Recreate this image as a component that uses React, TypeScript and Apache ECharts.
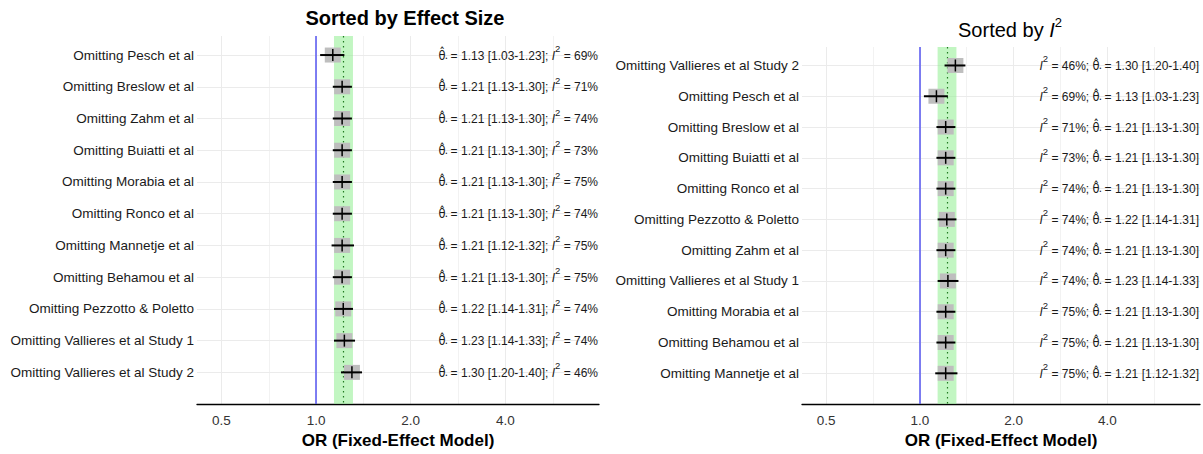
import React, { useEffect, useRef } from 'react';
import * as echarts from 'echarts';

// ---------- data ----------
const studies = [
  'Pesch et al',
  'Breslow et al',
  'Zahm et al',
  'Buiatti et al',
  'Morabia et al',
  'Ronco et al',
  'Mannetje et al',
  'Behamou et al',
  'Pezzotto & Poletto',
  'Vallieres et al Study 1',
  'Vallieres et al Study 2',
];
const orEstimate = [1.13, 1.21, 1.21, 1.21, 1.21, 1.21, 1.21, 1.21, 1.22, 1.23, 1.3];
const ciLower = [1.03, 1.13, 1.13, 1.13, 1.13, 1.13, 1.12, 1.13, 1.14, 1.14, 1.2];
const ciUpper = [1.23, 1.3, 1.3, 1.3, 1.3, 1.3, 1.32, 1.3, 1.31, 1.33, 1.4];
const i2Values = [69, 71, 74, 73, 75, 74, 75, 75, 74, 74, 46];

const orderByEffect = [
  'Pesch et al', 'Breslow et al', 'Zahm et al', 'Buiatti et al', 'Morabia et al', 'Ronco et al',
  'Mannetje et al', 'Behamou et al', 'Pezzotto & Poletto', 'Vallieres et al Study 1', 'Vallieres et al Study 2',
];
const orderByI2 = [
  'Vallieres et al Study 2', 'Pesch et al', 'Breslow et al', 'Buiatti et al', 'Ronco et al',
  'Pezzotto & Poletto', 'Zahm et al', 'Vallieres et al Study 1', 'Morabia et al', 'Behamou et al', 'Mannetje et al',
];

const pooledOR = 1.22;
const pooledLower = 1.14;
const pooledUpper = 1.31;
const nullOR = 1;
const xTickValues = [0.5, 1, 2, 4];
const xMinorBreaks = [0.7071, 1.4142, 2.8284, 5.6569];

// ---------- styling ----------
const FONT = '"Liberation Sans", Arial, Helvetica, sans-serif';
const THETA_FONT = '"DejaVu Sans", "Liberation Sans", sans-serif';
const X_MIN = 0.418;
const X_MAX = 7.94;
const Y_MIN = 0.4;
const Y_MAX = 12;
const TXT = '#1a1a1a';

const fmt = (v: number) => v.toFixed(2);

let measureCtx: CanvasRenderingContext2D | null = null;
function textWidth(s: string, size: number, italic = false, family = FONT) {
  if (!measureCtx) measureCtx = document.createElement('canvas').getContext('2d');
  if (!measureCtx) return s.length * size * 0.55;
  measureCtx.font = `${italic ? 'italic ' : ''}${size}px ${family}`;
  return measureCtx.measureText(s).width;
}

type Piece = { t: string; size: number; italic?: boolean; dy: number; pre: number; family?: string };

const thetaPieces = (id: number): Piece[] => [
  { t: 'θ\u0302', size: 11.5, dy: 0, pre: 0, family: THETA_FONT },
  { t: '•', size: 5, dy: 2, pre: 0 },
  { t: `= ${fmt(orEstimate[id])} [${fmt(ciLower[id])}-${fmt(ciUpper[id])}]`, size: 12, dy: 0, pre: 1 },
];
const i2Pieces = (id: number): Piece[] => [
  { t: 'I', size: 12, italic: true, dy: 0, pre: 0 },
  { t: '2', size: 9.5, dy: -7, pre: 0 },
  { t: `= ${i2Values[id]}%`, size: 12, dy: 0, pre: 1 },
];

function annotationPieces(id: number, i2First: boolean): Piece[] {
  const a = i2First ? i2Pieces(id) : thetaPieces(id);
  const b = i2First ? thetaPieces(id) : i2Pieces(id);
  b[0] = { ...b[0], pre: 1 };
  return [...a, { t: ';', size: 12, dy: 0, pre: 0 }, ...b];
}

function renderAnnotation(right: number, cy: number, pieces: Piece[]) {
  const space = textWidth(' ', 12);
  const widths = pieces.map((p) => textWidth(p.t, p.size, p.italic, p.family || FONT));
  const total = pieces.reduce((s, p, i) => s + p.pre * space + widths[i], 0);
  let x = right - total;
  const children: any[] = [];
  pieces.forEach((p, i) => {
    x += p.pre * space;
    children.push({
      type: 'text',
      x,
      y: cy + p.dy,
      style: {
        text: p.t,
        fontSize: p.size,
        fontFamily: p.family || FONT,
        fontStyle: p.italic ? 'italic' : 'normal',
        fill: TXT,
        align: 'left',
        verticalAlign: 'middle',
      },
    });
    x += widths[i];
  });
  return { type: 'group', children };
}

function buildPanel(idx: number, order: string[], i2First: boolean) {
  const ids = order.map((n) => studies.indexOf(n));
  const rows = ids.map((_, r) => r + 1);
  const markData = ids.map((id, r) => [orEstimate[id], r + 1, ciLower[id], ciUpper[id]]);
  const textData = ids.map((id, r) => [orEstimate[id], r + 1, id]);

  const xAxis = {
    type: 'log',
    logBase: 2,
    gridIndex: idx,
    min: X_MIN,
    max: X_MAX,
    axisLine: { show: true, lineStyle: { color: '#000', width: 1.3 } },
    axisTick: { show: false },
    splitLine: { show: false },
    axisLabel: {
      margin: 9,
      fontSize: 13.5,
      color: '#333',
      fontFamily: FONT,
      formatter: (v: number) => (xTickValues.some((t) => Math.abs(t - v) < 1e-6) ? v.toFixed(1) : ''),
    },
    name: 'OR (Fixed-Effect Model)',
    nameLocation: 'middle',
    nameGap: 26,
    nameTextStyle: { fontSize: 17, fontWeight: 'bold', color: '#000', fontFamily: FONT },
  };
  const yAxis = {
    type: 'value',
    gridIndex: idx,
    min: Y_MIN,
    max: Y_MAX,
    inverse: true,
    axisLine: { show: false },
    axisTick: { show: false },
    splitLine: { show: false },
    axisLabel: {
      customValues: rows,
      formatter: (v: number) => 'Omitting ' + (order[Math.round(v) - 1] || ''),
      fontSize: 13.5,
      color: TXT,
      margin: 3,
      fontFamily: FONT,
    },
  };

  const gridLines = [
    ...xTickValues.map((v) => ({ xAxis: v, lineStyle: { color: '#EBEBEB', width: 1, type: 'solid' } })),
    ...xMinorBreaks.map((v) => ({ xAxis: v, lineStyle: { color: '#F0F0F0', width: 0.9, type: 'solid' } })),
    ...rows.map((r) => ({ yAxis: r, lineStyle: { color: '#EBEBEB', width: 1, type: 'solid' } })),
  ];

  const series = [
    {
      type: 'line',
      xAxisIndex: idx,
      yAxisIndex: idx,
      data: [],
      z: 0,
      silent: true,
      markLine: {
        silent: true,
        z: 0,
        symbol: ['none', 'none'],
        label: { show: false },
        emphasis: { disabled: true },
        data: gridLines,
      },
    },
    {
      type: 'line',
      xAxisIndex: idx,
      yAxisIndex: idx,
      data: [],
      z: 1,
      silent: true,
      markArea: {
        silent: true,
        z: 1,
        itemStyle: { color: 'rgba(144,238,144,0.55)' },
        label: { show: false },
        emphasis: { disabled: true },
        data: [[{ xAxis: pooledLower }, { xAxis: pooledUpper }]],
      },
      markLine: {
        silent: true,
        z: 2,
        symbol: ['none', 'none'],
        label: { show: false },
        emphasis: { disabled: true },
        data: [
          { xAxis: nullOR, lineStyle: { color: '#5f5ff2', width: 1.6, type: 'solid' } },
          { xAxis: pooledOR, lineStyle: { color: '#1f7a1f', width: 1.2, type: [1.5, 3.5] } },
        ],
      },
    },
    {
      type: 'custom',
      xAxisIndex: idx,
      yAxisIndex: idx,
      z: 3,
      silent: true,
      encode: { x: [0, 2, 3], y: 1 },
      data: markData,
      renderItem: (params: any, api: any) => {
        const y = api.value(1);
        const c = api.coord([api.value(0), y]);
        const lo = api.coord([api.value(2), y]);
        const hi = api.coord([api.value(3), y]);
        return {
          type: 'group',
          children: [
            { type: 'rect', shape: { x: c[0] - 8, y: c[1] - 7.5, width: 16, height: 15 }, style: { fill: '#BEBEBE' } },
            { type: 'line', shape: { x1: lo[0], y1: c[1], x2: hi[0], y2: c[1] }, style: { stroke: '#000', lineWidth: 2 } },
            { type: 'line', shape: { x1: c[0], y1: c[1] - 6, x2: c[0], y2: c[1] + 6 }, style: { stroke: '#000', lineWidth: 1.5 } },
          ],
        };
      },
    },
    {
      type: 'custom',
      xAxisIndex: idx,
      yAxisIndex: idx,
      z: 4,
      silent: true,
      encode: { x: 0, y: 1 },
      data: textData,
      renderItem: (params: any, api: any) => {
        const cs = params.coordSys;
        const id = api.value(2);
        const p = api.coord([api.value(0), api.value(1)]);
        return renderAnnotation(cs.x + cs.width - 1, p[1] + 0.5, annotationPieces(id, i2First));
      },
    },
  ];
  return { xAxis, yAxis, series };
}

function buildOption() {
  const left = buildPanel(0, orderByEffect, false);
  const right = buildPanel(1, orderByI2, true);
  return {
    animation: false,
    backgroundColor: '#fff',
    title: [
      {
        text: 'Sorted by Effect Size',
        left: 400,
        top: 3,
        textAlign: 'center',
        textStyle: { fontSize: 20, fontWeight: 'bold', color: '#000', fontFamily: FONT },
      },
      {
        text: 'Sorted by {it|I}{sp|2}',
        left: 1005,
        top: 11,
        textAlign: 'center',
        textStyle: {
          fontSize: 20,
          lineHeight: 28,
          fontWeight: 'normal',
          color: '#000',
          fontFamily: FONT,
          rich: {
            it: { fontSize: 20, lineHeight: 28, fontStyle: 'italic', color: '#000', fontFamily: FONT },
            sp: { fontSize: 13, lineHeight: 11, color: '#000', fontFamily: FONT, verticalAlign: 'top' },
          },
        },
      },
    ],
    grid: [
      { left: 197, right: 604, top: 36, bottom: 47 },
      { left: 802, right: 1, top: 47, bottom: 47 },
    ],
    xAxis: [left.xAxis, right.xAxis],
    yAxis: [left.yAxis, right.yAxis],
    series: [...left.series, ...right.series],
  };
}

export default function App() {
  const ref = useRef<HTMLDivElement>(null);
  useEffect(() => {
    if (!ref.current) return;
    const chart = echarts.init(ref.current, null, { renderer: 'svg' });
    chart.setOption(buildOption() as any);
    return () => chart.dispose();
  }, []);
  return <div ref={ref} style={{ position: 'fixed', left: 0, top: 0, width: 1203, height: 454 }} />;
}
